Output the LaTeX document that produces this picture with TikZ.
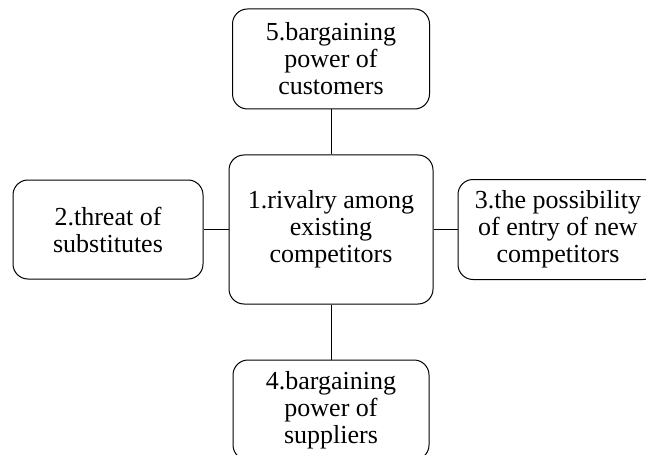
\documentclass[tikz,border=0pt]{standalone}
\usepackage{fontspec}
\setmainfont{Liberation Serif}

\begin{document}
\begin{tikzpicture}
[lineDecorate/.style={-,line width=0.5pt},%
  boxDecorate/.style={shape=rectangle,rounded corners=7.5pt,draw,line width=0.5pt,
    align=center,inner sep=0pt,font=\fontsize{13}{13.5}\selectfont},
  x=0.5pt,y=-0.5pt]
\useasboundingbox (0,0) rectangle (646,454);
%% boxes
\node (rivalry) at (331,229.5) [boxDecorate,minimum width=102pt,minimum height=74.5pt]
  {1.rivalry among\\existing\\competitors};
\foreach \nodename/\x/\y/\w/\h/\label in {
  substitutes/108/229.5/95pt/49.5pt/{2.threat of\\substitutes},
  entrants/558/229.5/100pt/50pt/{3.the possibility\\of entry of new\\competitors},
  suppliers/331/410/98pt/50pt/{4.bargaining\\power of\\suppliers},
  customers/331/59/98.5pt/50pt/{5.bargaining\\power of\\customers}}
{
  \node (\nodename) at (\x,\y) [boxDecorate,minimum width=\w,minimum height=\h] {\label};
}
%% connectors
\path
\foreach \endnode in {substitutes, entrants, suppliers, customers}
{
  (rivalry) edge[lineDecorate] (\endnode)
};
\end{tikzpicture}
\end{document}
